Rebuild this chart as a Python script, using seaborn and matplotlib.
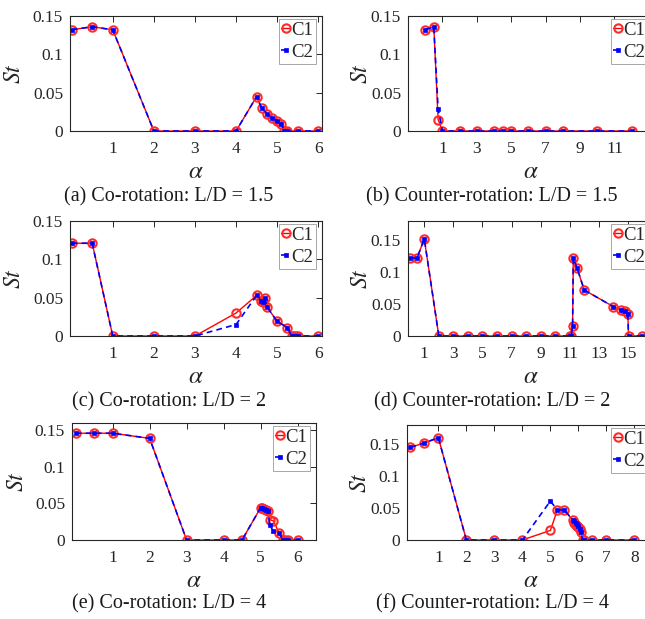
import matplotlib
matplotlib.use("Agg")
import matplotlib.pyplot as plt
import seaborn as sns

# ---- data: Strouhal number St versus rotation rate alpha ----
# (a) Co-rotation, L/D = 1.5
a_alpha = [0, 0.5, 1, 2, 3, 4, 4.5, 4.62, 4.75, 4.87, 5.0, 5.1, 5.17, 5.25, 5.5, 6]
a_c1 = [0.132, 0.136, 0.132, 0, 0, 0, 0.045, 0.030, 0.0225, 0.017, 0.0134, 0.0095, 0, 0, 0, 0]
a_c2 = [0.132, 0.136, 0.132, 0, 0, 0, 0.045, 0.030, 0.0225, 0.017, 0.0134, 0.0095, 0, 0, 0, 0]

# (b) Counter-rotation, L/D = 1.5
b_alpha = [0, 0.5, 0.75, 1, 2, 3, 4, 4.5, 5, 6, 7, 8, 10, 12]
b_c1 = [0.132, 0.136, 0.015, 0, 0, 0, 0, 0, 0, 0, 0, 0, 0, 0]
b_c2 = [0.132, 0.136, 0.029, 0, 0, 0, 0, 0, 0, 0, 0, 0, 0, 0]

# (c) Co-rotation, L/D = 2
c_alpha = [0, 0.5, 1, 2, 3, 4, 4.5, 4.6, 4.65, 4.7, 4.75, 5.0, 5.25, 5.35, 5.4, 5.45, 5.5, 6]
c_c1 = [0.121, 0.121, 0, 0, 0, 0.030, 0.053, 0.046, 0.045, 0.050, 0.038, 0.019, 0.011, 0, 0, 0, 0, 0]
c_c2 = [0.121, 0.121, 0, 0, 0, 0.015, 0.053, 0.046, 0.045, 0.050, 0.038, 0.019, 0.011, 0, 0, 0, 0, 0]

# (d) Counter-rotation, L/D = 2
d_alpha = [0, 0.5, 1, 2, 3, 4, 5, 6, 7, 8, 9, 10, 11, 11.1, 11.2, 11.25, 11.5, 12,
           14, 14.5, 14.8, 15, 15.05, 16]
d_c1 = [0.122, 0.122, 0.152, 0, 0, 0, 0, 0, 0, 0, 0, 0, 0, 0, 0.0155, 0.122, 0.107, 0.072,
        0.046, 0.041, 0.039, 0.034, 0, 0]
d_c2 = [0.122, 0.122, 0.152, 0, 0, 0, 0, 0, 0, 0, 0, 0, 0, 0, 0.0155, 0.122, 0.107, 0.072,
        0.046, 0.041, 0.039, 0.034, 0, 0]

# (e) Co-rotation, L/D = 4
e_alpha = [0, 0.5, 1, 2, 3, 4, 4.5, 5.0, 5.05, 5.1, 5.15, 5.2, 5.25, 5.35, 5.5,
           5.6, 5.65, 5.75, 6.0]
e_c1 = [0.146, 0.146, 0.146, 0.139, 0, 0, 0, 0.044, 0.044, 0.043, 0.041, 0.039, 0.028, 0.026,
        0.010, 0, 0, 0, 0]
e_c2 = [0.146, 0.146, 0.146, 0.139, 0, 0, 0, 0.044, 0.044, 0.043, 0.041, 0.039, 0.020, 0.012,
        0.010, 0, 0, 0, 0]

# (f) Counter-rotation, L/D = 4
f_alpha = [0, 0.5, 1, 2, 3, 4, 5, 5.25, 5.5, 5.8, 5.85, 5.9, 5.95, 6.0, 6.05, 6.1,
           6.15, 6.2, 6.5, 7, 8]
f_c1 = [0.145, 0.152, 0.160, 0, 0, 0, 0.015, 0.047, 0.047, 0.031, 0.026, 0.024, 0.022, 0.020,
        0.017, 0.013, 0, 0, 0, 0, 0]
f_c2 = [0.145, 0.152, 0.160, 0, 0, 0, 0.061, 0.047, 0.047, 0.031, 0.029, 0.027, 0.025, 0.022,
        0.018, 0.013, 0, 0, 0, 0, 0]

captions = ["(a) Co-rotation: L/D = 1.5", "(b) Counter-rotation: L/D = 1.5",
            "(c) Co-rotation: L/D = 2", "(d) Counter-rotation: L/D = 2",
            "(e) Co-rotation: L/D = 4", "(f) Counter-rotation: L/D = 4"]
series_names = ["C1", "C2"]
y_ticks = [0, 0.05, 0.1, 0.15]
y_ticklabels = ["0", "0.05", "0.1", "0.15"]

sns.set_style("white")
plt.rcParams["font.family"] = ["Liberation Serif", "DejaVu Serif"]
plt.rcParams["mathtext.fontset"] = "stix"

W, H = 645, 619
fig = plt.figure(figsize=(W / 100, H / 100), dpi=100)


def px_axes(left, right, top, bottom):
    return fig.add_axes([left / W, 1 - bottom / H, (right - left) / W, (bottom - top) / H])


panels = [
    dict(box=(70, 322, 16, 131), x=a_alpha, c1=a_c1, c2=a_c2, xlim=(-0.04, 6.09),
         ylim=(0, 0.15), xticks=[1, 2, 3, 4, 5, 6]),
    dict(box=(408, 654, 16, 131), x=b_alpha, c1=b_c1, c2=b_c2, xlim=(-1.0, 13.3),
         ylim=(0, 0.15), xticks=[1, 3, 5, 7, 9, 11]),
    dict(box=(70, 322, 221, 336), x=c_alpha, c1=c_c1, c2=c_c2, xlim=(-0.04, 6.09),
         ylim=(0, 0.15), xticks=[1, 2, 3, 4, 5, 6]),
    dict(box=(408, 654, 221, 336), x=d_alpha, c1=d_c1, c2=d_c2, xlim=(-0.12, 16.8),
         ylim=(0, 0.18), xticks=[1, 3, 5, 7, 9, 11, 13, 15]),
    dict(box=(72, 316, 423, 540), x=e_alpha, c1=e_c1, c2=e_c2, xlim=(-0.1, 6.5),
         ylim=(0, 0.16), xticks=[1, 2, 3, 4, 5, 6]),
    dict(box=(407, 654, 425, 540), x=f_alpha, c1=f_c1, c2=f_c2, xlim=(-0.12, 8.7),
         ylim=(0, 0.18), xticks=[1, 2, 3, 4, 5, 6, 7, 8]),
]

caption_y = [197, 197, 402, 402, 604, 604]
caption_x = [169, 492, 169, 492, 169, 492]

for i, p in enumerate(panels):
    ax = px_axes(*p["box"])
    sns.lineplot(x=p["x"], y=p["c1"], ax=ax, color="red", lw=1.0, marker="o",
                 markersize=6, markerfacecolor="none", markeredgecolor="#ff2a2a",
                 markeredgewidth=1.5, label=series_names[0], sort=False, estimator=None)
    sns.lineplot(x=p["x"], y=p["c2"], ax=ax, color="blue", lw=1.2, linestyle=(0, (3.5, 2.5)),
                 marker="s", markersize=2.6, markerfacecolor="blue", markeredgecolor="blue",
                 markeredgewidth=0.5, label=series_names[1], sort=False, estimator=None)
    ax.set_xlim(*p["xlim"])
    ax.set_ylim(*p["ylim"])
    ax.set_xticks(p["xticks"])
    ax.set_xticklabels([str(t) for t in p["xticks"]])
    ax.set_yticks(y_ticks)
    ax.set_yticklabels(y_ticklabels)
    ax.tick_params(direction="in", length=4, width=0.7, top=True, right=True,
                   labelsize=12.5, colors="#262626")
    ax.tick_params(axis="x", pad=7)
    ax.tick_params(axis="y", pad=5)
    for s in ax.spines.values():
        s.set_visible(True)
        s.set_linewidth(0.8)
        s.set_color("#262626")
    ax.set_xlabel(r"$\alpha$", fontsize=18, color="#262626")
    ax.set_ylabel(r"$St$", fontsize=17, color="#262626")
    left, right, top, bottom = p["box"]
    ax.xaxis.set_label_coords(0.5, -0.26)
    ax.yaxis.set_label_coords(-0.18 if i % 2 == 0 else -0.145, 0.5)
    leg_w = right - left
    leg_h = bottom - top
    ax.legend(loc="upper right", bbox_to_anchor=(1 - 6.5 / leg_w, 1 - 3 / leg_h),
              borderaxespad=0, fontsize=13.5, handlelength=0.45, handletextpad=0.05,
              borderpad=0.15, labelspacing=0.25, frameon=True, fancybox=False,
              edgecolor="#9a9a9a", framealpha=1)
    ax.get_legend().get_frame().set_linewidth(0.6)
    fig.text(caption_x[i] / W, 1 - caption_y[i] / H, captions[i], ha="center", va="center",
             fontsize=14.5, color="#1a1a1a")

fig.savefig("out.png", dpi=100)
